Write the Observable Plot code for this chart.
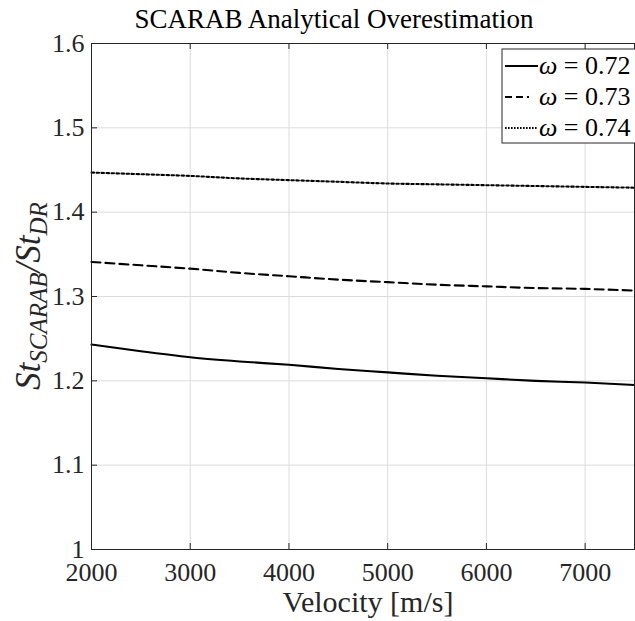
<!DOCTYPE html>
<html>
<head>
<meta charset="utf-8">
<script src="https://cdn.jsdelivr.net/npm/d3@7"></script>
<script src="https://cdn.jsdelivr.net/npm/@observablehq/plot@0.6"></script>
<style>
  body { margin: 0; background: #fff; }
  #chart svg { display: block; }
</style>
</head>
<body>
<div id="chart"></div>
<script>
// Stanton number ratio (SCARAB / DR) versus velocity for three viscosity exponents
const velocity = [2000, 2500, 3000, 3500, 4000, 4500, 5000, 5500, 6000, 6500, 7000, 7500];
const omega072 = [1.243, 1.235, 1.228, 1.223, 1.219, 1.214, 1.210, 1.206, 1.203, 1.200, 1.198, 1.195];
const omega073 = [1.341, 1.337, 1.333, 1.328, 1.324, 1.320, 1.317, 1.314, 1.312, 1.310, 1.309, 1.307];
const omega074 = [1.447, 1.445, 1.443, 1.440, 1.438, 1.436, 1.434, 1.433, 1.432, 1.431, 1.430, 1.429];
const omegaLabels = ["0.72", "0.73", "0.74"];
const xTicks = [2000, 3000, 4000, 5000, 6000, 7000];
const yTicks = [1, 1.1, 1.2, 1.3, 1.4, 1.5, 1.6];

const W = 635, H = 621;
const M = {top: 43, right: 1, bottom: 72, left: 91};
const SERIF = "'Liberation Serif', 'DejaVu Serif', serif";
const INK = "#262626";

const styles = [
  {omega: omegaLabels[0], values: omega072, dash: null},
  {omega: omegaLabels[1], values: omega073, dash: "9,5"},
  {omega: omegaLabels[2], values: omega074, dash: "2.5,2.5"}
];
const rows = styles.flatMap(s => velocity.map((v, i) => ({velocity: v, ratio: s.values[i], omega: s.omega})));

const lineMarks = styles.map(s =>
  Plot.line(rows.filter(r => r.omega === s.omega), {
    x: "velocity", y: "ratio", stroke: "#000", strokeWidth: 2.1,
    strokeDasharray: s.dash, curve: "monotone-x"
  })
);

const plotW = W - M.left - M.right, plotH = H - M.top - M.bottom;

const chart = Plot.plot({
  width: W, height: H,
  marginTop: M.top, marginRight: M.right, marginBottom: M.bottom, marginLeft: M.left,
  style: {background: "#fff", overflow: "visible"},
  x: {domain: [2000, 7500], ticks: xTicks},
  y: {domain: [1, 1.6], ticks: yTicks},
  marks: [
    Plot.gridX(xTicks, {stroke: "#dcdcdc", strokeOpacity: 1, strokeWidth: 1}),
    Plot.gridY(yTicks, {stroke: "#dcdcdc", strokeOpacity: 1, strokeWidth: 1}),
    // inward tick marks on the left, bottom and top edges
    Plot.tickY(yTicks, {y: d => d, stroke: INK, insetRight: plotW - 6}),
    Plot.tickX(xTicks, {x: d => d, stroke: INK, insetTop: plotH - 6}),
    Plot.tickX(xTicks, {x: d => d, stroke: INK, insetBottom: plotH - 6}),
    ...lineMarks,
    Plot.axisX(xTicks, {tickSize: 0, tickPadding: 13, fontSize: 26, fill: INK,
      label: null, tickFormat: d => String(d)}),
    Plot.axisY(yTicks, {tickSize: 0, tickPadding: 7, fontSize: 26, fill: INK,
      label: null, tickFormat: d => String(+d.toFixed(1))}),
    Plot.frame({stroke: INK, strokeWidth: 1})
  ]
});

document.getElementById("chart").append(chart);

const svg = d3.select(chart);

// title
svg.append("text")
  .attr("x", 334).attr("y", 28)
  .attr("text-anchor", "middle")
  .style("font-size", "27px").attr("fill", "#000")
  .text("SCARAB Analytical Overestimation");

// x axis label
svg.append("text")
  .attr("x", 368).attr("y", 612)
  .attr("text-anchor", "middle")
  .style("font-size", "30px").attr("fill", INK)
  .text("Velocity [m/s]");

// y axis label: St_SCARAB / St_DR
const yl = svg.append("text")
  .attr("transform", `translate(40,${M.top + plotH / 2}) rotate(-90)`)
  .attr("text-anchor", "middle")
  .style("font-size", "35px").style("font-style", "italic").attr("fill", INK);
yl.append("tspan").text("St");
yl.append("tspan").attr("dy", 7).style("font-size", "25px").text("SCARAB");
yl.append("tspan").attr("dy", -7).text("/St");
yl.append("tspan").attr("dy", 7).style("font-size", "25px").text("DR");

// legend box in the upper right corner
const lg = svg.append("g").attr("transform", "translate(502,49)");
lg.append("rect").attr("width", 150).attr("height", 94)
  .attr("fill", "#fff").attr("stroke", INK).attr("stroke-width", 1);
const legendDash = [null, "7,4,7,4,2,60", "1.6,1.4"];
omegaLabels.forEach((lab, i) => {
  const cy = 17 + i * 31;
  lg.append("line").attr("x1", 3).attr("x2", 36).attr("y1", cy).attr("y2", cy)
    .attr("stroke", "#000").attr("stroke-width", 2)
    .attr("stroke-dasharray", legendDash[i]);
  const t = lg.append("text").attr("x", 37).attr("y", cy + 8)
    .attr("text-anchor", "start")
    .style("font-size", "26px").attr("fill", "#000");
  t.append("tspan").style("font-style", "italic").text("ω");
  t.append("tspan").text(" = " + lab);
});

// every label in the figure uses the serif face
svg.selectAll("text, tspan").style("font-family", SERIF);
</script>
</body>
</html>
